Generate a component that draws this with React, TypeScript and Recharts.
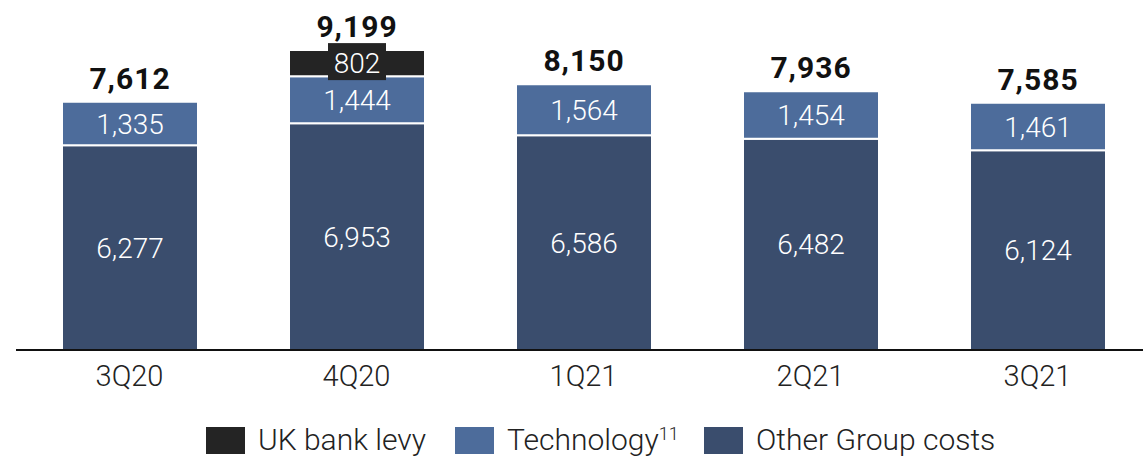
import React from "react";
import { BarChart, Bar, XAxis, YAxis, LabelList, ReferenceLine } from "recharts";

const quarters = ["3Q20", "4Q20", "1Q21", "2Q21", "3Q21"];
const otherGroupCosts = [6277, 6953, 6586, 6482, 6124];
const technology = [1335, 1444, 1564, 1454, 1461];
const ukBankLevy = [0, 802, 0, 0, 0];

const COLORS = {
  levy: "#242424",
  tech: "#4d6c9b",
  other: "#3a4d6d",
};

const FONT = "Roboto, 'Noto Sans', sans-serif";

const data = quarters.map((q, i) => ({
  quarter: q,
  other: otherGroupCosts[i],
  tech: technology[i],
  levy: ukBankLevy[i],
  total: otherGroupCosts[i] + technology[i] + ukBankLevy[i],
}));

const fmt = (v: number) => v.toLocaleString("en-US");

const InsideLabel = (props: any) => {
  const { x, y, width, height, value } = props;
  if (!value) return null;
  return (
    <text
      x={x + width / 2}
      y={y + height / 2}
      dy={10}
      textAnchor="middle"
      fill="#ffffff"
      fontFamily={FONT}
      fontWeight={300}
      fontSize={28}
    >
      {fmt(value)}
    </text>
  );
};

// the levy segment's label sits in a dark box overlapping the bar top
const LevyLabel = (props: any) => {
  const { x, y, width, height, value } = props;
  if (!value) return null;
  const cx = x + width / 2;
  return (
    <g>
      <rect x={cx - 29} y={y - 7} width={58} height={37} fill={COLORS.levy} />
      <text
        x={cx}
        y={y + height / 2}
        dy={10}
        textAnchor="middle"
        fill="#ffffff"
        fontFamily={FONT}
        fontWeight={300}
        fontSize={28}
      >
        {fmt(value)}
      </text>
    </g>
  );
};

// bold total above the stack; tech segment is present in every bar
const TotalLabel = (props: any) => {
  const { x, y, width, height, index } = props;
  const d = data[index];
  const levyPx = d.levy ? (height * d.levy) / d.tech : 0;
  return (
    <text
      x={x + width / 2}
      y={y - levyPx - 13}
      textAnchor="middle"
      fill="#111111"
      fontFamily={FONT}
      fontWeight={700}
      fontSize={30}
      letterSpacing={1}
    >
      {fmt(d.total)}
    </text>
  );
};

const QuarterTick = (props: any) => {
  const { x, y, payload } = props;
  return (
    <text
      x={x}
      y={y + 28}
      textAnchor="middle"
      fill="#222222"
      fontFamily={FONT}
      fontWeight={300}
      fontSize={29}
    >
      {payload.value}
    </text>
  );
};

const legendItems = [
  { label: "UK bank levy", sup: "", color: COLORS.levy },
  { label: "Technology", sup: "11", color: COLORS.tech },
  { label: "Other Group costs", sup: "", color: COLORS.other },
];

const CustomLegend = () => (
  <div
    style={{
      position: "absolute",
      left: 206,
      top: 425,
      width: 937,
      display: "flex",
      alignItems: "center",
      fontFamily: FONT,
      fontWeight: 300,
      fontSize: 30,
      lineHeight: "30px",
      color: "#222",
      whiteSpace: "nowrap",
    }}
  >
    {legendItems.map((it) => (
      <div key={it.label} style={{ display: "flex", alignItems: "center", width: 249, flexShrink: 0 }}>
        <span
          style={{
            display: "inline-block",
            width: 39,
            height: 27,
            background: it.color,
            marginRight: 13,
            flexShrink: 0,
          }}
        />
        <span style={{ flexShrink: 0 }}>
          {it.label}
          {it.sup && <sup style={{ fontSize: 18, verticalAlign: "top", lineHeight: 1 }}>{it.sup}</sup>}
        </span>
      </div>
    ))}
  </div>
);

export default function App() {
  return (
    <div
      style={{
        position: "absolute",
        left: 0,
        top: 0,
        width: 1143,
        height: 457,
        overflow: "hidden",
        background: "#fff",
      }}
    >
      <BarChart
        width={1151}
        height={457}
        data={data}
        margin={{ top: 0, right: 0, bottom: 0, left: 16 }}
        barSize={136}
      >
        <XAxis
          dataKey="quarter"
          axisLine={false}
          tickLine={false}
          tick={<QuarterTick />}
          interval={0}
          height={107}
        />
        <YAxis hide domain={[0, 10736]} />
        <Bar dataKey="other" stackId="a" fill={COLORS.other} stroke="#ffffff" strokeWidth={2} isAnimationActive={false}>
          <LabelList dataKey="other" content={<InsideLabel />} />
        </Bar>
        <Bar dataKey="tech" stackId="a" fill={COLORS.tech} stroke="#ffffff" strokeWidth={2} isAnimationActive={false}>
          <LabelList dataKey="tech" content={<InsideLabel />} />
          <LabelList dataKey="total" content={<TotalLabel />} />
        </Bar>
        <Bar dataKey="levy" stackId="a" fill={COLORS.levy} stroke="#ffffff" strokeWidth={2} isAnimationActive={false}>
          <LabelList dataKey="levy" content={<LevyLabel />} />
        </Bar>
        <ReferenceLine y={0} stroke="#111111" strokeWidth={2} />
      </BarChart>
      <CustomLegend />
    </div>
  );
}
